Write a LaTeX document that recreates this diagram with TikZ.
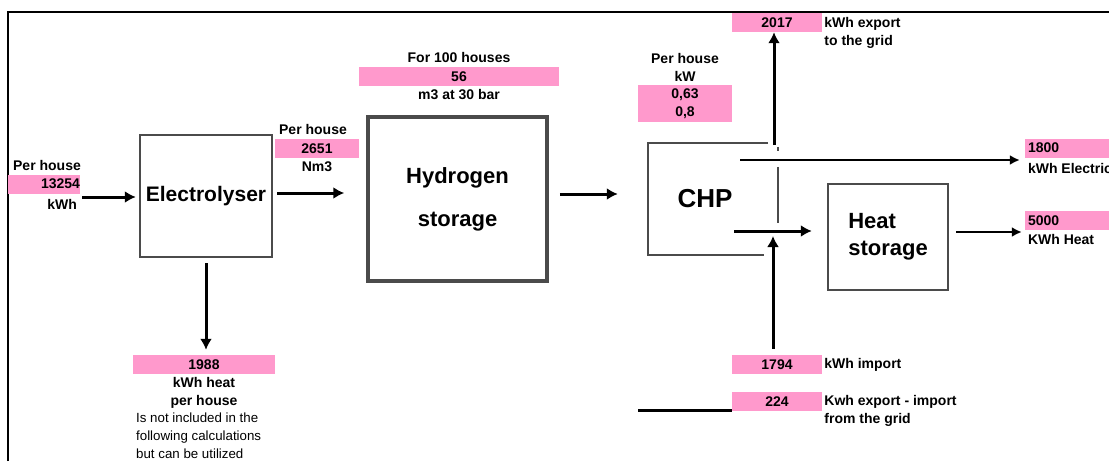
\documentclass[tikz,border=0pt]{standalone}
\usepackage{fontspec}
\setmainfont{Liberation Sans}
\usetikzlibrary{arrows.meta,positioning}
\definecolor{hspink}{RGB}{255,153,204}
\definecolor{hsgray}{RGB}{75,75,75}
\newcommand{\hslblfont}{\fontsize{14}{18}\selectfont\bfseries}
\newcommand{\hsnotefont}{\fontsize{13.3}{18}\selectfont}
\newcommand{\hsbigfont}{\fontsize{21}{27}\selectfont\bfseries}
\tikzset{
  hsbox/.style={draw=hsgray, line width=2.4pt, fill=white, align=center, inner sep=0pt, font=\hsbigfont},
  hsval/.style={fill=hspink, inner sep=0pt, minimum height=19pt, align=center, font=\hslblfont},
  hslbl/.style={inner sep=0pt, align=center, font=\hslblfont},
  hsarr/.style={-{Latex[length=11pt,width=12pt]}, line width=3pt},
  hsarrthin/.style={-{Latex[length=10pt,width=10pt]}, line width=2.2pt},
  hsline/.style={line width=3pt},
  hsthin/.style={draw=hsgray, line width=2pt}
}
\begin{document}
\begin{tikzpicture}[x=1pt, y=-1pt]
  \useasboundingbox (0,0) rectangle (1109,461);
  \draw[line width=2.2pt] (8,461) -- (8,12) -- (1109,12);
  % main blocks
  \node[hsbox, minimum width=132pt, minimum height=122pt] (elec) at (206,196) {Electrolyser};
  \node[hsbox, line width=3.5pt, minimum width=179pt, minimum height=164pt,
    font=\fontsize{22}{43}\selectfont\bfseries] (h2) at (457.5,199) {Hydrogen\\storage};
  \node[minimum width=130pt, minimum height=112pt, inner sep=0pt,
    font=\fontsize{26}{30}\selectfont\bfseries] (chp) at (713,199) {CHP\hspace*{16pt}};
  \node[hsbox, minimum width=120pt, minimum height=106pt, align=left,
    font=\fontsize{22}{27}\selectfont\bfseries] (hs) at (888,237) {Heat\\storage};
  \draw[hsthin] ([xshift=-10pt]chp.north east) -- (chp.north west) -- (chp.south west) -- ([xshift=-14pt]chp.south east);
  \draw[hsthin] ([yshift=-24pt]chp.north east) -- ([yshift=-80pt]chp.north east);
  \draw[hsthin] ([yshift=-4pt]chp.north east) -- ([yshift=-8pt]chp.north east);
  % values and labels
  \node[hsval, text width=72pt, align=right] (v13254) at (44,184) {13254\hspace*{2pt}};
  \node[hslbl, above=3pt of v13254, xshift=3pt] (lbl13254a) {Per house};
  \node[hslbl, below left=5pt and 3pt of v13254.south east] (lbl13254b) {kWh};
  \node[hsval, minimum width=84pt] (v2651) at (317,148.5) {2651};
  \node[hslbl, above=4pt of v2651, xshift=-4pt] (lbl2651a) {Per house};
  \node[hslbl, below=3pt of v2651] (lbl2651b) {Nm3};
  \node[hsval, minimum width=200pt] (v56) at (459,76.5) {56};
  \node[hslbl, above=4pt of v56] (lbl56a) {For 100 houses};
  \node[hslbl, below=3pt of v56] (lbl56b) {m3 at 30 bar};
  \node[hsval, minimum width=94pt, minimum height=37pt] (vkw) at (685,103.5) {0,63\\0,8};
  \node[hslbl, above=3pt of vkw] (lblkw) {Per house\\kW};
  \node[hsval, minimum width=90pt] (v2017) at (777,22.5) {2017};
  \node[hslbl, align=left, below right=4pt and 2pt of v2017.north east] (lbl2017) {kWh export\\to the grid};
  \node[hsval, text width=100pt, align=left] (v1800) at (1075,148) {\hspace*{3pt}1800};
  \node[hslbl, align=left, below right=5pt and 3pt of v1800.south west] (lbl1800) {kWh Electricity};
  \node[hsval, text width=100pt, align=left] (v5000) at (1075,220.5) {\hspace*{3pt}5000};
  \node[hslbl, align=left, below right=4pt and 3pt of v5000.south west] (lbl5000) {KWh Heat};
  \node[hsval, minimum width=90pt] (v1794) at (777,364.5) {1794};
  \node[hslbl, right=2pt of v1794] (lbl1794) {kWh import};
  \node[hsval, minimum width=90pt] (v224) at (777,401.5) {224};
  \node[hslbl, align=left, below right=3pt and 2pt of v224.north east] (lbl224) {Kwh export - import\\from the grid};
  \node[hsval, minimum width=142pt] (v1988) at (204,364.5) {1988};
  \node[hslbl, below=3pt of v1988] (lbl1988) {kWh heat\\per house};
  \node[inner sep=0pt, align=left, font=\hsnotefont, anchor=north west] (note1988) at (136,413)
    {Is not included in the\\following calculations\\but can be utilized};
  % flows
  \coordinate (in) at (82,197);
  \coordinate (exp) at (774,145);
  \coordinate (el) at (740,160);
  \coordinate (ht) at (734,231);
  \coordinate (imp) at (773,236);
  \coordinate (bal) at (638,410);
  \draw[hsarr, shorten >=3pt] (in) -- (in -| elec.west);
  \draw[hsarr, shorten <=4pt, shorten >=22pt] ([yshift=3pt]elec.east) -- ([yshift=3pt]elec.east -| h2.west);
  \draw[hsarr, shorten <=11pt, shorten >=30pt] ([yshift=5pt]h2.east) -- ([yshift=5pt]h2.east -| chp.west);
  \draw[hsarr, shorten <=5pt, shorten >=5pt] (elec.south) -- (elec.south |- v1988.north);
  \draw[hsarr] (exp) -- (exp |- v2017.south);
  \draw[hsarrthin, shorten >=5pt] (el) -- (el -| v1800.west);
  \draw[hsarr, shorten >=15pt] (ht) -- (ht -| hs.west);
  \draw[hsarrthin, shorten <=7pt, shorten >=3pt] ([yshift=5pt]hs.east) -- ([yshift=5pt]hs.east -| v5000.west);
  \draw[hsarr, shorten <=6pt] (imp |- v1794.north) -- (imp);
  \draw[hsline] (bal) -- (bal -| v224.west);
\end{tikzpicture}
\end{document}
